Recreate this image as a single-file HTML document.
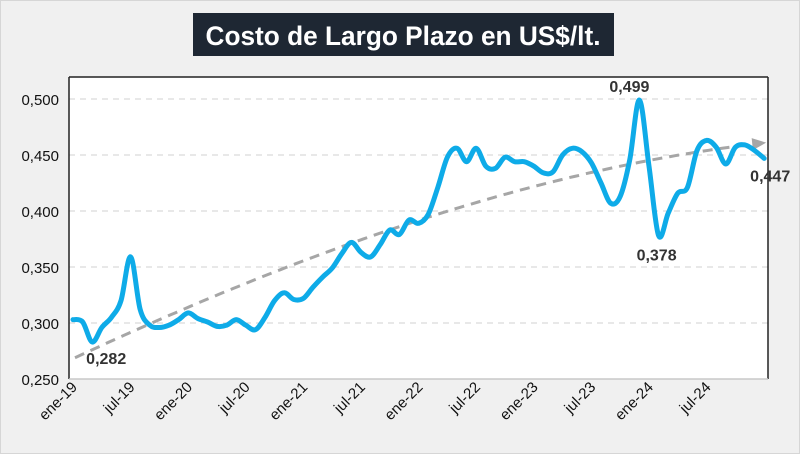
<!DOCTYPE html>
<html><head><meta charset="utf-8"><style>
html,body{margin:0;padding:0;background:#f0f0f0}
svg{display:block}
text{font-family:"Liberation Sans",sans-serif}
</style></head><body>
<svg id="chart" width="800" height="454" viewBox="0 0 800 454" xmlns="http://www.w3.org/2000/svg">
<rect x="0.5" y="0.5" width="799" height="453" fill="#f0f0f0" stroke="#d6d6d6"/>
<rect x="193" y="13" width="421" height="43" fill="#1e2733"/>
<text x="403" y="45" text-anchor="middle" fill="#fff" font-size="27" font-weight="bold" textLength="395" lengthAdjust="spacingAndGlyphs">Costo de Largo Plazo en US$/lt.</text>
<rect x="69" y="77" width="699" height="302" fill="#fff"/>
<g id="grid"></g>
<g id="yticks"></g>
<g id="xticks"></g>
<line x1="69" y1="77" x2="768" y2="77" stroke="#222" stroke-width="1.5"/>
<line x1="69" y1="77" x2="69" y2="379" stroke="#222" stroke-width="1.5"/>
<line x1="768" y1="77" x2="768" y2="379" stroke="#222" stroke-width="1.5"/>
<line x1="69" y1="379" x2="768" y2="379" stroke="#c8c8c8" stroke-width="1.5"/>
<g id="trend"></g>
<g id="series"></g>
<g id="labels"></g>
</svg>
<script>
const values = [0.303,0.301,0.283,0.296,0.305,0.320,0.359,0.312,0.298,0.296,0.298,0.303,0.309,0.304,0.301,0.297,0.298,0.303,0.298,0.294,0.305,0.320,0.327,0.321,0.322,0.332,0.341,0.349,0.362,0.372,0.363,0.359,0.370,0.383,0.379,0.392,0.389,0.397,0.421,0.448,0.456,0.444,0.456,0.440,0.438,0.448,0.444,0.444,0.440,0.434,0.435,0.450,0.456,0.453,0.443,0.425,0.407,0.413,0.446,0.499,0.440,0.378,0.398,0.416,0.421,0.454,0.463,0.457,0.442,0.457,0.459,0.454,0.447];
const tickLabels = ["ene-19","jul-19","ene-20","jul-20","ene-21","jul-21","ene-22","jul-22","ene-23","jul-23","ene-24","jul-24"];
const yTicks = [0.250,0.300,0.350,0.400,0.450,0.500];
const trendIdx = [0,8,37,72];
const trendValues = [0.269,0.300,0.395,0.461];
const annotations = [{i:2,text:"0,282",dx:14,dy:22},{i:59,text:"0,499",dx:-10,dy:-8},{i:61,text:"0,378",dx:-2,dy:25},{i:72,text:"0,447",dx:6,dy:23}];

const NS="http://www.w3.org/2000/svg";
const X0=73, DX=9.6;
const xs=i=>X0+i*DX;
const ys=v=>379-(v-0.25)/0.05*56;
function mk(tag,attrs,parent){const e=document.createElementNS(NS,tag);for(const k in attrs)e.setAttribute(k,attrs[k]);document.getElementById(parent).appendChild(e);return e;}

yTicks.forEach(v=>{
  if(v>0.25){const g=mk('line',{x1:69,x2:768,y1:ys(v),y2:ys(v),stroke:'#d0d0d0','stroke-dasharray':'6 5','stroke-width':1},'grid');
  
  }
  const t=mk('text',{x:59,y:ys(v)+6,'text-anchor':'end','font-size':15,fill:'#111'},'yticks');
  t.textContent=v.toFixed(3).replace('.',',');
  
  
});
tickLabels.forEach((s,k)=>{
  const x=xs(k*6)+5, y=388;
  const t=mk('text',{x:x,y:y,'text-anchor':'end','font-size':15,fill:'#111',transform:`rotate(-45 ${x} ${y})`},'xticks');
  t.textContent=s;
  
  
});
const n=values.length-1;
function tr(i){let s=0;for(let a=0;a<trendIdx.length;a++){let L=1;for(let b=0;b<trendIdx.length;b++){if(a!==b)L*=(i-trendIdx[b])/(trendIdx[a]-trendIdx[b]);}s+=trendValues[a]*L;}return s;}
let td='';for(let i=0;i<=n-1;i+=0.5){td+=(i?'L':'M')+(xs(i)+2).toFixed(1)+','+ys(tr(i)).toFixed(1);}
const tp=mk('path',{d:td,fill:'none',stroke:'#a6a6a6','stroke-width':3,'stroke-dasharray':'10 7'},'trend');


const ex=xs(n)+2, ey=ys(tr(n)), px=xs(n-1.5), py=ys(tr(n-1.5));
const ang=Math.atan2(ey-py,ex-px);
const ah=mk('polygon',{points:`${ex},${ey} ${ex-14*Math.cos(ang)+6*Math.sin(ang)},${ey-14*Math.sin(ang)-6*Math.cos(ang)} ${ex-14*Math.cos(ang)-6*Math.sin(ang)},${ey-14*Math.sin(ang)+6*Math.cos(ang)}`,fill:'#a6a6a6'},'trend');


const P=values.map((v,i)=>[xs(i),ys(v)]);
let d=`M${P[0][0]},${P[0][1]}`;
for(let i=0;i<P.length-1;i++){const p0=P[Math.max(0,i-1)],p1=P[i],p2=P[i+1],p3=P[Math.min(P.length-1,i+2)];
 d+=` C${(p1[0]+(p2[0]-p0[0])/6).toFixed(1)},${(p1[1]+(p2[1]-p0[1])/6).toFixed(1)} ${(p2[0]-(p3[0]-p1[0])/6).toFixed(1)},${(p2[1]-(p3[1]-p1[1])/6).toFixed(1)} ${p2[0].toFixed(1)},${p2[1].toFixed(1)}`;}
const sp=mk('path',{d:d,fill:'none',stroke:'#0eabe8','stroke-width':5,'stroke-linecap':'round','stroke-linejoin':'round'},'series');


annotations.forEach(a=>{
  const t=mk('text',{x:xs(a.i)+a.dx,y:ys(values[a.i])+a.dy,'text-anchor':'middle','font-size':16,'font-weight':'bold',fill:'#333'},'labels');
  t.textContent=a.text;
  
  
});
</script>
</body></html>
